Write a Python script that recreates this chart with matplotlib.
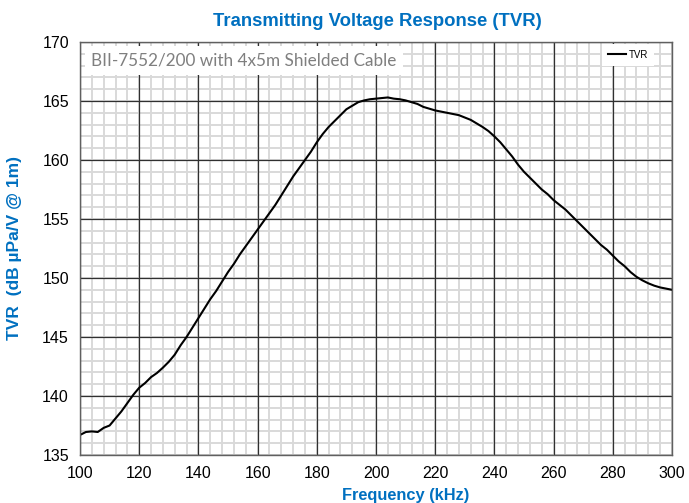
import numpy as np
import matplotlib.pyplot as plt
import matplotlib.ticker as ticker

plt.rcParams['font.family'] = ['Liberation Sans', 'DejaVu Sans']

freq = [100, 102, 104, 106, 108, 110, 112, 114, 116, 118,
        120, 122, 124, 126, 128, 130, 132, 134, 136, 138,
        140, 142, 144, 146, 148, 150, 152, 154, 156, 158,
        160, 162, 164, 166, 168, 170, 172, 174, 176, 178,
        180, 182, 184, 186, 188, 190, 192, 194, 196, 198,
        200, 202, 204, 206, 208, 210, 212, 214, 216, 218,
        220, 222, 224, 226, 228, 230, 232, 234, 236, 238,
        240, 242, 244, 246, 248, 250, 252, 254, 256, 258,
        260, 262, 264, 266, 268, 270, 272, 274, 276, 278,
        280, 282, 284, 286, 288, 290, 292, 294, 296, 298, 300]
tvr = [136.7, 136.95, 137.0, 136.95, 137.3, 137.5, 138.1, 138.7, 139.4, 140.1,
       140.7, 141.1, 141.6, 141.95, 142.4, 142.9, 143.5, 144.3, 145.0, 145.8,
       146.6, 147.4, 148.2, 148.9, 149.7, 150.5, 151.2, 152.0, 152.7, 153.4,
       154.1, 154.8, 155.5, 156.2, 157.0, 157.8, 158.6, 159.3, 160.0, 160.7,
       161.5, 162.2, 162.8, 163.3, 163.8, 164.3, 164.6, 164.9, 165.05, 165.15,
       165.2, 165.25, 165.3, 165.2, 165.15, 165.05, 164.9, 164.75, 164.5, 164.35,
       164.2, 164.1, 164.0, 163.9, 163.8, 163.6, 163.4, 163.1, 162.8, 162.45,
       162.0, 161.5, 160.9, 160.3, 159.6, 159.0, 158.5, 158.0, 157.5, 157.1,
       156.6, 156.2, 155.8, 155.3, 154.8, 154.3, 153.8, 153.3, 152.8, 152.4,
       151.9, 151.4, 151.0, 150.5, 150.1, 149.8, 149.55, 149.35, 149.2, 149.1, 149.0]

blue = '#0070C0'

fig = plt.figure(figsize=(6.89, 5.03), dpi=100)
ax = fig.add_axes([80 / 689, 1 - 455 / 503, 592 / 689, 413 / 503])

ax.plot(freq, tvr, color='black', lw=1.5, label='TVR', zorder=5)

ax.set_xlim(100, 300)
ax.set_ylim(135, 170)
ax.xaxis.set_major_locator(ticker.MultipleLocator(20))
ax.yaxis.set_major_locator(ticker.MultipleLocator(5))

# grid drawn by hand so the major lines sit on top of the minor ones
for x in np.arange(100, 301, 4):
    ax.axvline(x, color='#d9d9d9', lw=1.4, zorder=1)
for y in np.arange(135, 171, 1):
    ax.axhline(y, color='#d9d9d9', lw=1.4, zorder=1)
for x in np.arange(100, 301, 20):
    ax.axvline(x, color='#303030', lw=0.9, zorder=2)
for y in np.arange(135, 171, 5):
    ax.axhline(y, color='#303030', lw=0.9, zorder=2)

ax.tick_params(which='both', length=0, labelsize=11.5, pad=8)
for s in ax.spines.values():
    s.set_color('#606060')
    s.set_linewidth(1.0)
    s.set_zorder(6)

ax.text(0.0185, 0.955, 'BII-7552/200 with 4x5m Shielded Cable', transform=ax.transAxes,
        fontsize=12.3, color='#7f7f7f', family=['Lato', 'DejaVu Sans'],
        va='center', ha='left', zorder=7,
        bbox=dict(facecolor='white', edgecolor='none', pad=4.5))

leg = ax.legend(loc='upper right', bbox_to_anchor=(0.97, 0.995), fontsize=7,
                frameon=True, fancybox=False, handlelength=1.9,
                handletextpad=0.3, borderpad=0.6, borderaxespad=0)
leg.get_frame().set_edgecolor('none')
leg.get_frame().set_facecolor('white')
leg.get_frame().set_alpha(1)
leg.set_zorder(7)

fig.suptitle('Transmitting Voltage Response (TVR)', x=0.547, y=0.975,
             fontsize=13.3, fontweight='bold', color=blue)
ax.set_xlabel('Frequency (kHz)', fontsize=11.8, fontweight='bold', color=blue)
ax.xaxis.set_label_coords(0.55, -0.08)
ax.set_ylabel('TVR  (dB µPa/V @ 1m)', fontsize=12.5, fontweight='bold', color=blue)
ax.yaxis.set_label_coords(-0.098, 0.5)

fig.savefig('out.png', dpi=100)
